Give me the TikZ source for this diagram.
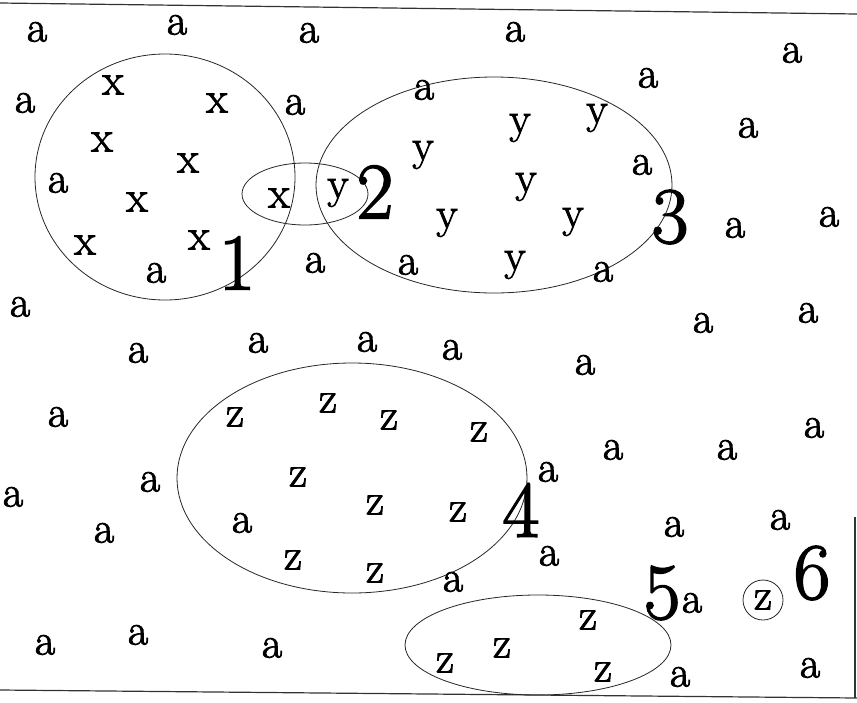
\documentclass[tikz,border=0pt]{standalone}
\usepackage{fontspec}
\newfontfamily\lmf{Latin Modern Roman}[FakeBold=2]
\begin{document}
\begin{tikzpicture}[x=1pt,y=-1pt,
  lt/.style={inner sep=0pt,font={\lmf\fontsize{44}{46}\selectfont}},
  num/.style={inner sep=0pt,font={\lmf\fontsize{80}{82}\selectfont}},
  ring/.style={draw=black!85,line width=0.8pt},
  edge/.style={draw=black!80,line width=1.2pt}]
\useasboundingbox (0,0) rectangle (857,702);
% frame lines
\coordinate (tl) at (0,3); \coordinate (tr) at (857,14);
\coordinate (bl) at (0,690); \coordinate (br) at (857,698);
\coordinate (rt) at (855,517); \coordinate (rb) at (855,698);
\draw[edge] (tl) -- (tr);
\draw[edge] (bl) -- (br);
\draw[edge] (rt) -- (rb);
% ellipses
\draw[ring] (165,177) ellipse [x radius=130pt, y radius=123pt];
\draw[ring] (305,194) ellipse [x radius=63pt, y radius=31pt];
\draw[ring] (494,185) ellipse [x radius=178pt, y radius=108pt];
\draw[ring] (352,478) ellipse [x radius=175pt, y radius=115pt];
\draw[ring] (538,645) ellipse [x radius=133pt, y radius=50pt];
\draw[ring] (763,600) circle [radius=20pt];
% a letters
\foreach \p [count=\i] in {(37,32),(177,25),(309,33),(515,32),(792,53),
  (25,103),(295,105),(424,90),(648,78),(748,128),(58,183),(642,165),
  (156,273),(315,263),(408,265),(603,272),(735,228),(829,217),(20,307),
  (703,323),(808,313),(138,353),(258,343),(367,342),(452,350),(585,365),
  (58,417),(613,450),(727,450),(814,428),(548,472),(150,482),(13,497),
  (104,533),(242,523),(674,527),(780,520),(549,556),(453,582),(692,603),
  (45,645),(138,635),(272,648),(680,677),(810,668)}
  \node[lt] (a\i) at \p {a};
% x letters
\foreach \p [count=\i] in {(113,85),(217,103),(102,142),(188,163),(137,202),
  (279,198),(85,245),(199,240)}
  \node[lt] (x\i) at \p {x};
% y letters
\foreach \p [count=\i] in {(338,193),(423,155),(520,128),(597,118),(526,187),
  (447,223),(573,222),(515,265)}
  \node[lt] (y\i) at \p {y};
% z letters
\foreach \p [count=\i] in {(235,417),(328,403),(389,420),(479,432),(298,477),
  (375,505),(458,512),(293,560),(375,573),(588,620),(502,648),(445,663),
  (603,672),(763,600)}
  \node[lt] (z\i) at \p {z};
% numbers
\node[num] (n1) at (237,263) {1};
\node[num] (n2) at (375,192) {2};
\node[num] (n3) at (670,217) {3};
\node[num] (n4) at (521,510) {4};
\node[num] (n5) at (662,593) {5};
\node[num] (n6) at (812,573) {6};
\end{tikzpicture}
\end{document}
